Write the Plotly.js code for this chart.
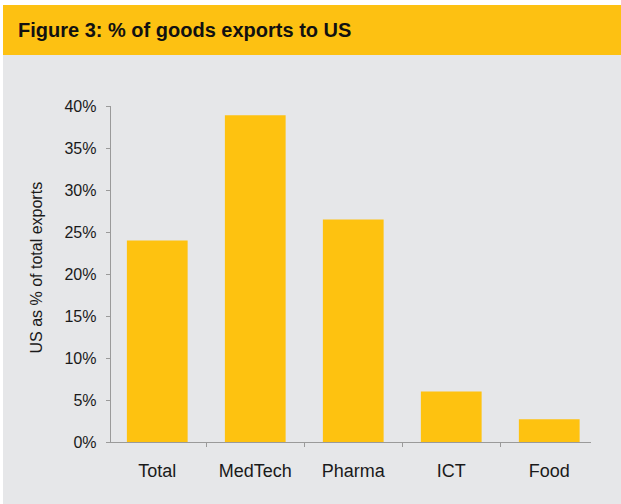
<!DOCTYPE html>
<html>
<head>
<meta charset="utf-8">
<script src="https://cdn.plot.ly/plotly-3.0.1.min.js"></script>
<style>html,body{margin:0;padding:0;background:#fff;}#chart{width:621px;height:504px;}</style>
</head>
<body>
<div id="chart"></div>
<script>
const categories = ['Total', 'MedTech', 'Pharma', 'ICT', 'Food'];
const usShare = [0.24, 0.389, 0.265, 0.06, 0.027];
const yTickVals = [0, 0.05, 0.10, 0.15, 0.20, 0.25, 0.30, 0.35, 0.40];
const yTickText = ['0%', '5%', '10%', '15%', '20%', '25%', '30%', '35%', '40%'];
const chartTitle = 'Figure 3: % of goods exports to US';
const yTitle = 'US as % of total exports';

const BAR = '#fec210';
const BAND = '#fdc112';
const BG = '#e6e7e9';
const AX = '#9a9a9a';
const FONT = 'Liberation Sans, Arial, Helvetica, sans-serif';

const trace = {
  type: 'bar',
  x: categories,
  y: usShare,
  marker: {color: BAR, line: {width: 0}},
  width: 0.62,
  hoverinfo: 'skip'
};

const layout = {
  width: 621, height: 504,
  margin: {l: 111, r: 30, t: 106, b: 62, pad: 0},
  paper_bgcolor: '#ffffff',
  plot_bgcolor: 'rgba(0,0,0,0)',
  showlegend: false,
  font: {family: FONT, color: '#1a1a1a'},
  title: {
    text: '<b>' + chartTitle + '</b>',
    font: {family: FONT, size: 20, color: '#111111'},
    x: 18 / 621, xref: 'container', xanchor: 'left',
    y: 1 - 30 / 504, yref: 'container', yanchor: 'middle'
  },
  xaxis: {
    type: 'category',
    range: [-0.472, 4.426],
    showline: true, linecolor: AX, linewidth: 1.3,
    ticks: 'outside', ticklen: 4, tickcolor: AX, tickwidth: 1,
    tickson: 'boundaries',
    showgrid: false, zeroline: false,
    tickfont: {family: FONT, size: 18, color: '#1a1a1a'},
    ticklabelstandoff: 12,
    fixedrange: true
  },
  yaxis: {
    range: [0, 0.40],
    tickvals: yTickVals, ticktext: yTickText,
    showline: true, linecolor: AX, linewidth: 1.3,
    ticks: 'outside', ticklen: 4, tickcolor: AX, tickwidth: 1,
    showgrid: false, zeroline: false,
    tickfont: {family: FONT, size: 16, color: '#1a1a1a'},
    ticklabelstandoff: 6,
    fixedrange: true
  },
  shapes: [
    {type: 'rect', xref: 'paper', yref: 'paper', layer: 'below',
     x0: (3 - 111) / 480, x1: 1.2, y0: -0.25, y1: (442 - 55) / 336,
     fillcolor: BG, line: {width: 0}},
    {type: 'rect', xref: 'paper', yref: 'paper', layer: 'below',
     x0: (3 - 111) / 480, x1: 1.2, y0: (442 - 55) / 336, y1: (442 - 5) / 336,
     fillcolor: BAND, line: {width: 0}}
  ],
  annotations: [
    {text: yTitle, xref: 'paper', yref: 'paper',
     x: (35.5 - 111) / 480, y: (442 - 268) / 336,
     xanchor: 'center', yanchor: 'middle', textangle: -90, showarrow: false,
     font: {family: FONT, size: 16, color: '#1a1a1a'}}
  ]
};

Plotly.newPlot('chart', [trace], layout, {displayModeBar: false, staticPlot: true});
</script>
</body>
</html>
